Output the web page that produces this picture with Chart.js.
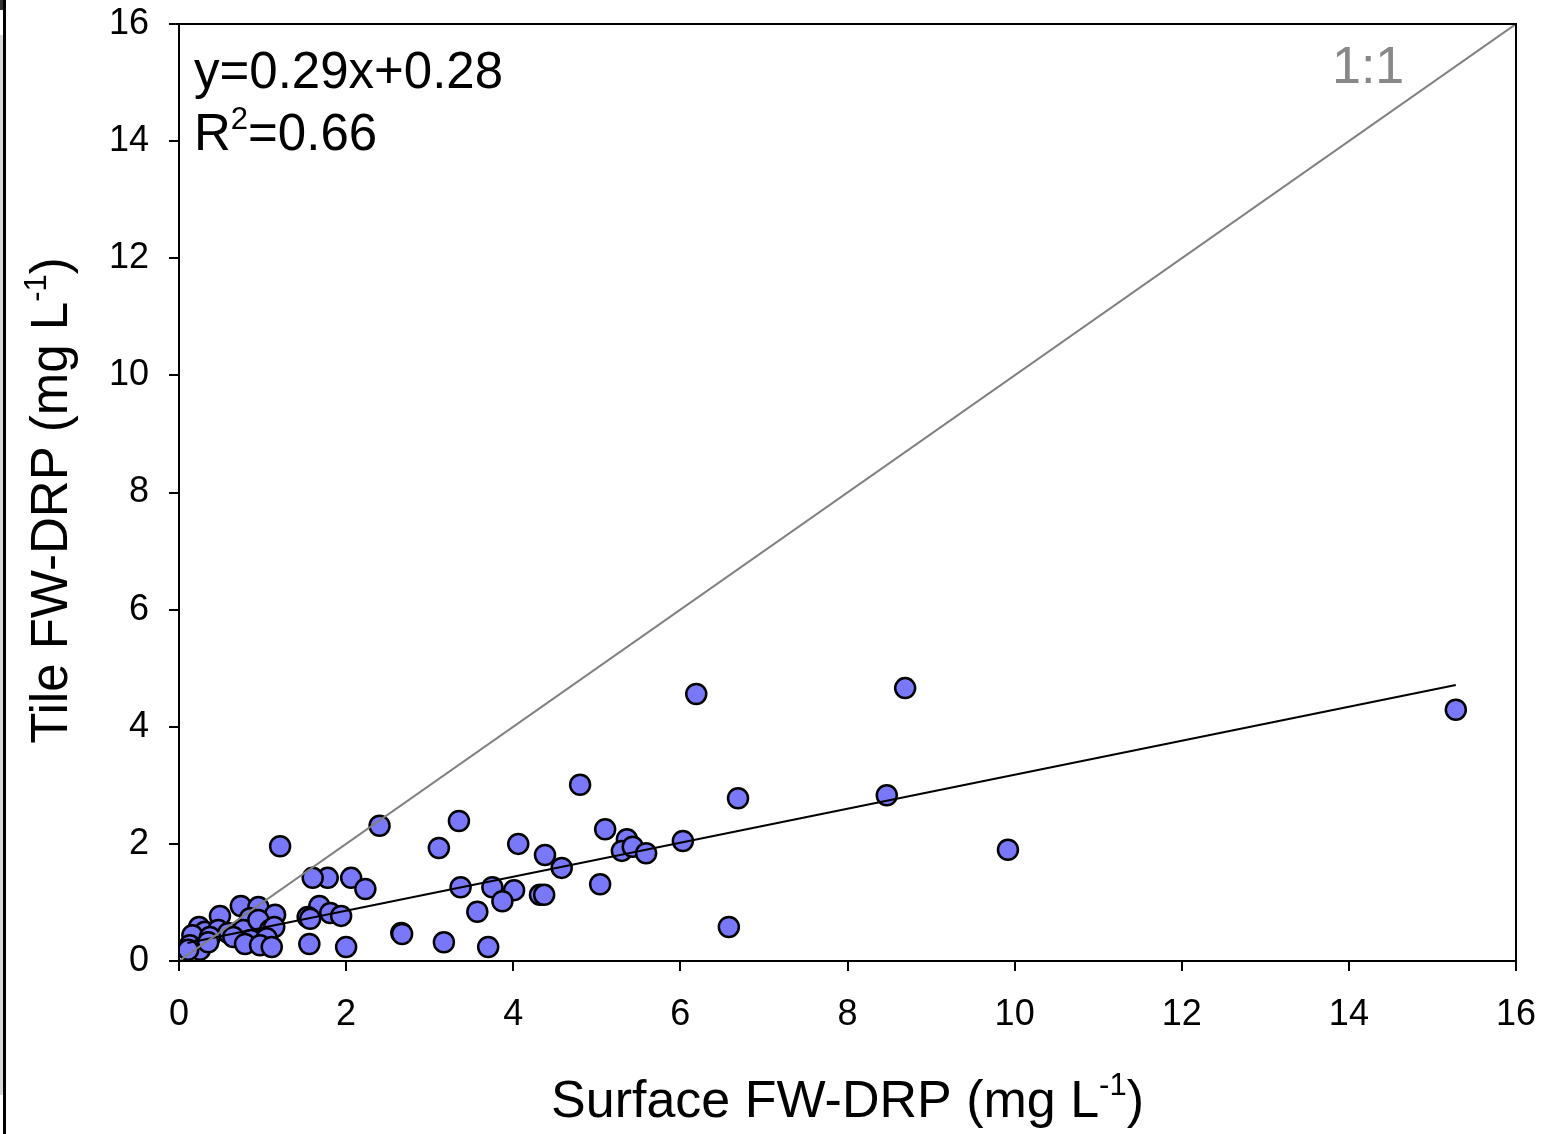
<!DOCTYPE html>
<html>
<head>
<meta charset="utf-8">
<script src="https://cdn.jsdelivr.net/npm/chart.js@4/dist/chart.umd.min.js"></script>
<style>
html,body{margin:0;padding:0;background:#fff;}
#wrap{position:relative;width:1546px;height:1134px;}
#strip{position:absolute;left:0;top:35px;width:3px;height:1060px;background:#d8d8d8;}
#edge{position:absolute;left:3px;top:0;width:3px;height:1134px;background:#000;}
#corner{position:absolute;left:0;top:0;width:3px;height:10px;background:#333;}
canvas{position:absolute;left:0;top:0;}
</style>
</head>
<body>
<div id="wrap">
<canvas id="c" width="1546" height="1134"></canvas>
<div id="strip"></div><div id="edge"></div><div id="corner"></div>
</div>
<script>
// ---- data ----
const surfaceX = [15.28, 8.69, 6.19, 9.92, 8.47, 6.69, 6.03, 6.58, 4.80, 5.10, 5.36, 5.30, 5.43, 5.59, 5.04, 4.58, 4.38, 4.06,
  3.35, 3.11, 3.37, 3.75, 4.01, 4.32, 4.37, 3.87, 3.57, 3.17, 3.70, 2.66, 2.67, 2.40, 2.06, 2.23, 1.78, 1.60, 1.68, 1.81, 1.94,
  1.54, 1.57, 1.56, 2.00, 1.21,
  0.74, 0.95, 0.49, 1.15, 0.85, 0.24, 0.31, 0.47, 0.59, 0.77, 0.95, 1.09, 1.14, 0.16, 0.37, 0.65, 0.86, 1.05, 0.13, 0.25, 0.79,
  0.97, 1.11, 0.35, 0.11];
const tileY = [4.29, 4.66, 4.56, 1.90, 2.83, 2.78, 2.05, 0.58, 3.01, 2.25, 2.08, 1.88, 1.95, 1.84, 1.31, 1.59, 1.81, 2.00,
  2.39, 1.93, 1.26, 1.26, 1.21, 1.13, 1.13, 1.02, 0.84, 0.32, 0.24, 0.48, 0.46, 2.31, 1.42, 1.23, 1.42, 1.42, 0.94, 0.82, 0.77,
  0.75, 0.72, 0.29, 0.24, 1.96,
  0.94, 0.92, 0.77, 0.79, 0.73, 0.58, 0.50, 0.53, 0.48, 0.53, 0.70, 0.53, 0.58, 0.44, 0.41, 0.41, 0.36, 0.39, 0.27, 0.19, 0.29,
  0.27, 0.24, 0.32, 0.19];
const regSlope = 0.29;
const regIntercept = 0.28;
const regRange = [0.1, 15.28];
const oneToOne = [0, 16];
const axisTicks = [0, 2, 4, 6, 8, 10, 12, 14, 16];
const eqText = "y=0.29x+0.28";
const r2Text = "0.66";
const xTitle = ["Surface FW-DRP (mg L", "-1", ")"];
const yTitle = ["Tile FW-DRP (mg L", "-1", ")"];

const FONT = "'Liberation Sans', Arial, sans-serif";
const points = surfaceX.map((x, i) => ({x: x, y: tileY[i]}));
const regLine = regRange.map(x => ({x: x, y: regSlope * x + regIntercept}));
const idLine = oneToOne.map(v => ({x: v, y: v}));

function supText(ctx, parts, x, y, size, align) {
  ctx.font = size + "px " + FONT;
  const w0 = ctx.measureText(parts[0]).width;
  const w2 = ctx.measureText(parts[2]).width;
  const supSize = Math.round(size * 0.6);
  ctx.font = supSize + "px " + FONT;
  const w1 = ctx.measureText(parts[1]).width;
  const total = w0 + w1 + w2;
  let sx = align === 'center' ? x - total / 2 : x;
  ctx.textAlign = 'left';
  ctx.textBaseline = 'alphabetic';
  ctx.font = size + "px " + FONT;
  ctx.fillText(parts[0], sx, y);
  ctx.font = supSize + "px " + FONT;
  ctx.fillText(parts[1], sx + w0, y - size * 0.42);
  ctx.font = size + "px " + FONT;
  ctx.fillText(parts[2], sx + w0 + w1, y);
}

const decor = {
  id: 'decor',
  afterDraw(chart) {
    const ctx = chart.ctx;
    const a = chart.chartArea;
    ctx.save();
    ctx.strokeStyle = '#000';
    ctx.lineWidth = 2;
    ctx.strokeRect(a.left, a.top, a.right - a.left, a.bottom - a.top);
    ctx.fillStyle = '#000';
    ctx.font = "51px " + FONT;
    ctx.textAlign = 'left';
    ctx.textBaseline = 'alphabetic';
    ctx.fillText(eqText, a.left + 15, a.top + 64);
    supText(ctx, ["R", "2", "=" + r2Text], a.left + 15, a.top + 126, 51, 'left');
    ctx.fillStyle = '#888';
    ctx.font = "52px " + FONT;
    ctx.fillText("1:1", a.right - 184, a.top + 59);
    ctx.fillStyle = '#000';
    supText(ctx, xTitle, (a.left + a.right) / 2, 1117, 52, 'center');
    ctx.translate(67, (a.top + a.bottom) / 2 + 8);
    ctx.rotate(-Math.PI / 2);
    supText(ctx, yTitle, 0, 0, 51, 'center');
    ctx.restore();
  }
};

new Chart(document.getElementById('c'), {
  type: 'scatter',
  data: {
    datasets: [
      {
        label: 'points', data: points, order: 2,
        backgroundColor: '#7878f8', borderColor: '#000', borderWidth: 2.5,
        pointRadius: 10, pointHoverRadius: 10
      },
      {
        label: 'reg', type: 'line', data: regLine, order: 1,
        borderColor: '#000', borderWidth: 2, pointRadius: 0, fill: false
      },
      {
        label: '1:1', type: 'line', data: idLine, order: 0,
        borderColor: '#808080', borderWidth: 2, pointRadius: 0, fill: false
      }
    ]
  },
  options: {
    responsive: false,
    animation: false,
    events: [],
    layout: {padding: {top: 24, right: 30, left: 0, bottom: 0}},
    plugins: {legend: {display: false}, tooltip: {enabled: false}},
    scales: {
      x: {
        type: 'linear', min: 0, max: 16,
        afterBuildTicks(s) { s.ticks = axisTicks.map(v => ({value: v})); },
        afterFit(s) { s.height = 173; s.paddingLeft = 0; s.paddingRight = 0; },
        grid: {drawOnChartArea: false, drawTicks: true, tickLength: 10, color: '#000', lineWidth: 2},
        border: {display: true, color: '#000', width: 2},
        ticks: {color: '#000', font: {family: FONT, size: 36}, padding: 22, maxRotation: 0}
      },
      y: {
        type: 'linear', min: 0, max: 16,
        afterBuildTicks(s) { s.ticks = axisTicks.map(v => ({value: v})); },
        afterFit(s) { s.width = 179; s.paddingTop = 0; s.paddingBottom = 0; },
        grid: {drawOnChartArea: false, drawTicks: true, tickLength: 10, color: '#000', lineWidth: 2},
        border: {display: true, color: '#000', width: 2},
        ticks: {color: '#000', font: {family: FONT, size: 36}, padding: 20}
      }
    }
  },
  plugins: [decor]
});
</script>
</body>
</html>
